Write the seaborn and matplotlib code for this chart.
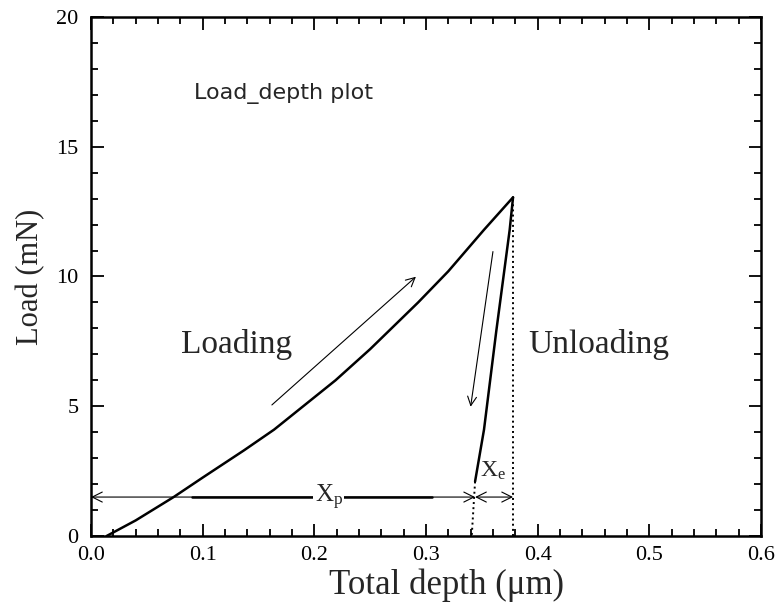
import numpy as np
import pandas as pd
import matplotlib
matplotlib.use('Agg')
import matplotlib.pyplot as plt
import seaborn as sns

# loading branch (depth in um, load in mN)
load_depth = [0.014, 0.04, 0.074, 0.10, 0.137, 0.164, 0.219, 0.25, 0.293, 0.32, 0.352, 0.378]
load_force = [0.0, 0.6, 1.5, 2.25, 3.3, 4.1, 6.0, 7.2, 9.0, 10.2, 11.8, 13.05]

# unloading branch
unload_depth = [0.378, 0.375, 0.363, 0.352, 0.344]
unload_force = [13.05, 11.8, 7.9, 4.1, 2.1]

# dotted extrapolation of unloading to zero load, and max depth line
extrap_depth = [0.344, 0.341]
extrap_force = [2.1, 0.0]
hmax_depth = [0.378, 0.378]
hmax_force = [0.0, 13.05]

xp_y = 1.5
x_ticks = [0.0, 0.1, 0.2, 0.3, 0.4, 0.5, 0.6]
y_ticks = [0, 5, 10, 15, 20]

sns.set_style("ticks")
plt.rcParams['font.family'] = ['Liberation Serif', 'DejaVu Serif']
plt.rcParams['mathtext.fontset'] = 'custom'
plt.rcParams['mathtext.rm'] = 'Liberation Serif'
plt.rcParams['mathtext.it'] = 'Liberation Serif'

fig, ax = plt.subplots(figsize=(7.78, 6.07), dpi=100)
fig.subplots_adjust(left=0.117, right=0.978, bottom=0.117, top=0.972)

loading = pd.DataFrame({'depth': load_depth, 'load': load_force})
unloading = pd.DataFrame({'depth': unload_depth, 'load': unload_force})

sns.lineplot(data=loading, x='depth', y='load', sort=False, estimator=None,
             color='black', lw=1.8, ax=ax)
sns.lineplot(data=unloading, x='depth', y='load', sort=False, estimator=None,
             color='black', lw=1.8, ax=ax)
sns.lineplot(x=extrap_depth, y=extrap_force, sort=False, estimator=None,
             color='black', lw=1.4, ls=':', ax=ax)
sns.lineplot(x=hmax_depth, y=hmax_force, sort=False, estimator=None,
             color='black', lw=1.4, ls=':', ax=ax)

# Xp and Xe dimension arrows
arr = dict(arrowstyle='<->', color='black', lw=0.8, mutation_scale=18, shrinkA=0, shrinkB=0)
ax.annotate('', xy=(0.0, xp_y), xytext=(extrap_depth[0], xp_y), arrowprops=arr)
ax.annotate('', xy=(extrap_depth[0], xp_y), xytext=(hmax_depth[0], xp_y), arrowprops=arr)
ax.plot([0.09, 0.305], [xp_y, xp_y], color='black', lw=1.8)
ax.text(0.213, xp_y, r'X$_\mathrm{p}$', fontsize=18, ha='center', va='center',
        bbox=dict(facecolor='white', edgecolor='none', pad=1))
ax.text(0.348, 2.5, r'X$_\mathrm{e}$', fontsize=17, ha='left', va='center')

# direction arrows
thin = dict(arrowstyle='->', color='black', lw=0.8, mutation_scale=16, shrinkA=0, shrinkB=0)
ax.annotate('', xy=(0.291, 9.99), xytext=(0.162, 5.05), arrowprops=thin)
ax.annotate('', xy=(0.340, 4.98), xytext=(0.360, 10.96), arrowprops=thin)

ax.text(0.081, 7.05, 'Loading', fontsize=24, ha='left', va='baseline')
ax.text(0.392, 7.05, 'Unloading', fontsize=24, ha='left', va='baseline')
ax.text(0.092, 16.85, 'Load_depth plot', fontsize=16, ha='left', va='baseline',
        family=['DejaVu Sans'])

ax.set_xlim(0, 0.6)
ax.set_ylim(0, 20)
ax.set_xticks(x_ticks)
ax.set_xticklabels([f'{t:.1f}' for t in x_ticks])
ax.set_yticks(y_ticks)
ax.set_yticklabels([str(t) for t in y_ticks])
ax.set_xticks(np.arange(0, 0.6001, 0.02), minor=True)
ax.set_yticks(np.arange(0, 20.001, 1), minor=True)
ax.tick_params(which='both', direction='in', top=True, right=True, width=1.3, colors='black')
ax.tick_params(which='major', length=9, labelsize=16)
ax.tick_params(axis='x', which='major', pad=7)
ax.tick_params(axis='y', which='major', pad=9)
ax.tick_params(which='minor', length=5)

ax.set_xlabel('Total depth (\u03bcm)', fontsize=25, labelpad=2)
ax.xaxis.set_label_coords(0.53, -0.062)
ax.set_ylabel('Load (mN)', fontsize=22, labelpad=8)
for s in ax.spines.values():
    s.set_linewidth(1.8)
    s.set_color('black')

fig.savefig('out.png', dpi=100)
